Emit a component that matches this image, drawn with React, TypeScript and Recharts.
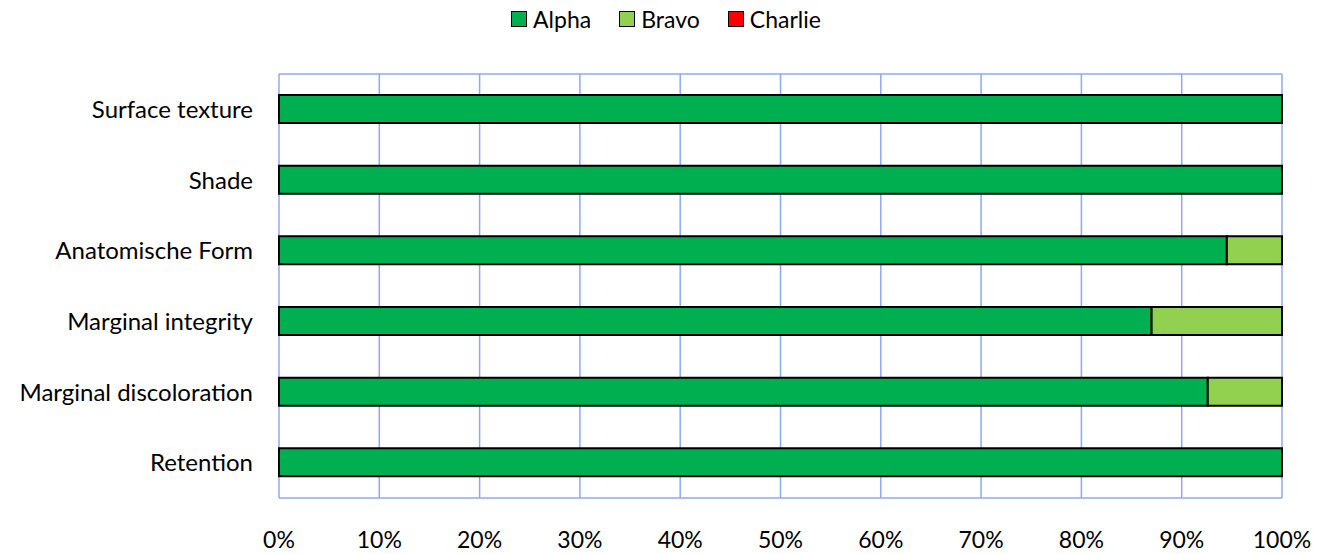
import React from 'react';
import { BarChart, Bar, XAxis, YAxis, CartesianGrid, Legend } from 'recharts';

const categories = [
  'Surface texture',
  'Shade',
  'Anatomische Form',
  'Marginal integrity',
  'Marginal discoloration',
  'Retention',
];
const alpha = [100, 100, 94.5, 87, 92.6, 100];
const bravo = [0, 0, 5.5, 13, 7.4, 0];
const charlie = [0, 0, 0, 0, 0, 0];
const xTicks = [0, 10, 20, 30, 40, 50, 60, 70, 80, 90, 100];

const seriesInfo = [
  { key: 'alpha', name: 'Alpha', color: '#00B050' },
  { key: 'bravo', name: 'Bravo', color: '#92D050' },
  { key: 'charlie', name: 'Charlie', color: '#FF0000' },
];

const data = categories.map((name, i) => ({
  name,
  alpha: alpha[i],
  bravo: bravo[i],
  charlie: charlie[i],
}));

const FONT = 'Lato, "Noto Sans", sans-serif';

const LegendContent = () => (
  <div
    style={{
      height: 40,
      display: 'flex',
      justifyContent: 'center',
      alignItems: 'flex-start',
      fontFamily: FONT,
      fontSize: 23,
      lineHeight: '28px',
      color: '#000',
      paddingTop: 5,
      paddingLeft: 50,
      boxSizing: 'border-box',
    }}
  >
    {seriesInfo.map((s) => (
      <div key={s.key} style={{ display: 'flex', alignItems: 'center', margin: '0 14px' }}>
        <span
          style={{
            display: 'inline-block',
            width: 14,
            height: 14,
            background: s.color,
            border: '1.5px solid #000',
            marginRight: 6,
          }}
        />
        <span>{s.name}</span>
      </div>
    ))}
  </div>
);

export default function App() {
  return (
    <div style={{ position: 'absolute', left: 0, top: 0, background: '#fff' }}>
      <BarChart
        width={1327}
        height={554}
        data={data}
        layout="vertical"
        margin={{ top: 34, right: 45, bottom: 0, left: 0 }}
        barSize={28}
      >
        <CartesianGrid
          stroke="#8CA8F8"
          strokeWidth={1.5}
          horizontalCoordinatesGenerator={({ offset }: any) => [offset.top, offset.top + offset.height]}
        />
        <XAxis
          type="number"
          domain={[0, 100]}
          ticks={xTicks}
          tickFormatter={(v) => `${v}%`}
          axisLine={false}
          tickLine={false}
          height={56}
          tickMargin={28}
          tick={{ fill: '#000', fontSize: 23, fontFamily: FONT }}
          interval={0}
        />
        <YAxis
          type="category"
          dataKey="name"
          width={279}
          axisLine={false}
          tickLine={false}
          tickMargin={20}
          tick={{ fill: '#000', fontSize: 24, fontFamily: FONT }}
          interval={0}
        />
        <Legend verticalAlign="top" wrapperStyle={{ top: 0 }} content={<LegendContent />} />
        {seriesInfo.map((s) => (
          <Bar
            key={s.key}
            dataKey={s.key}
            name={s.name}
            stackId="a"
            fill={s.color}
            stroke="#000"
            strokeWidth={2}
            isAnimationActive={false}
          />
        ))}
      </BarChart>
    </div>
  );
}
